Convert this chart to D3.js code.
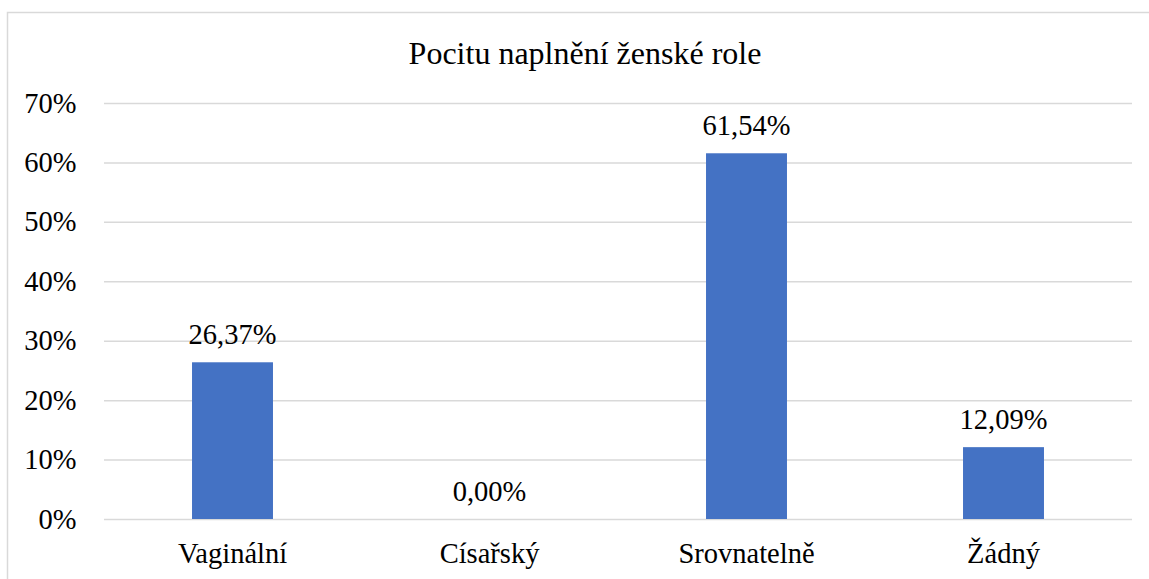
<!DOCTYPE html>
<html>
<head>
<meta charset="utf-8">
<script src="https://cdn.jsdelivr.net/npm/d3@7"></script>
<style>
  html, body { margin: 0; padding: 0; background: #fff; }
  svg { display: block; }
</style>
</head>
<body>
<svg id="chart" width="1149" height="579" font-family="Liberation Serif"></svg>
<script>
// Chart data
const title = "Pocitu naplnění ženské role";
const categories = ["Vaginální", "Císařský", "Srovnatelně", "Žádný"];
const values = [0.2637, 0.0000, 0.6154, 0.1209];
const yTicks = [0, 0.1, 0.2, 0.3, 0.4, 0.5, 0.6, 0.7];

const FONT = "Liberation Serif";
const LABEL_SIZE = 28.5;
const W = 1149, H = 579;
const margin = { left: 104, right: 17, top: 103, bottom: 60 };
const svg = d3.select("#chart");

// Outer chart frame (runs off the right and bottom edges)
svg.append("rect")
  .attr("x", 7.5).attr("y", 12.5)
  .attr("width", 1160).attr("height", 600)
  .attr("fill", "none")
  .attr("stroke", "#d9d9d9")
  .attr("stroke-width", 1.5);

const x = d3.scaleBand()
  .domain(categories)
  .range([margin.left, W - margin.right])
  .paddingInner(0.685)
  .paddingOuter(0.3425);

const y = d3.scaleLinear()
  .domain([0, 0.7])
  .range([H - margin.bottom, margin.top]);

const pct = v => d3.format(".0%")(v);
const pct2 = v => (v * 100).toFixed(2).replace(".", ",") + "%";

// Horizontal gridlines with percentage labels
const yAxis = d3.axisLeft(y)
  .tickValues(yTicks)
  .tickSize(-(W - margin.left - margin.right))
  .tickPadding(27.5)
  .tickFormat(pct);

const gy = svg.append("g")
  .attr("transform", `translate(${margin.left},0)`)
  .call(yAxis)
  .attr("font-family", FONT)
  .attr("font-size", LABEL_SIZE);
gy.select(".domain").remove();
gy.selectAll(".tick line")
  .attr("stroke", "#d9d9d9")
  .attr("stroke-width", 1.5);
gy.selectAll(".tick text")
  .attr("font-family", FONT)
  .attr("font-size", LABEL_SIZE)
  .attr("fill", "#000");

// Bars
svg.append("g").selectAll("rect")
  .data(categories)
  .join("rect")
  .attr("x", d => x(d))
  .attr("width", x.bandwidth())
  .attr("y", (d, i) => y(values[i]))
  .attr("height", (d, i) => y(0) - y(values[i]))
  .attr("fill", "#4472c4");

// Value labels above bars
svg.append("g").selectAll("text")
  .data(categories)
  .join("text")
  .attr("x", d => x(d) + x.bandwidth() / 2)
  .attr("y", (d, i) => y(values[i]) - 18.5)
  .attr("text-anchor", "middle")
  .attr("font-family", FONT)
  .attr("font-size", LABEL_SIZE)
  .attr("fill", "#000")
  .text((d, i) => pct2(values[i]));

// Category labels
const xAxis = d3.axisBottom(x).tickSize(0).tickPadding(0);
const gx = svg.append("g")
  .attr("transform", `translate(0,${y(0)})`)
  .call(xAxis)
  .attr("font-family", FONT)
  .attr("font-size", LABEL_SIZE);
gx.select(".domain").remove();
gx.selectAll(".tick text")
  .attr("dy", null)
  .attr("y", 44)
  .attr("font-family", FONT)
  .attr("font-size", LABEL_SIZE)
  .attr("fill", "#000");

// Title
svg.append("text")
  .attr("x", 585)
  .attr("y", 64)
  .attr("text-anchor", "middle")
  .attr("font-family", FONT)
  .attr("font-size", 32)
  .attr("fill", "#000")
  .text(title);
</script>
</body>
</html>
